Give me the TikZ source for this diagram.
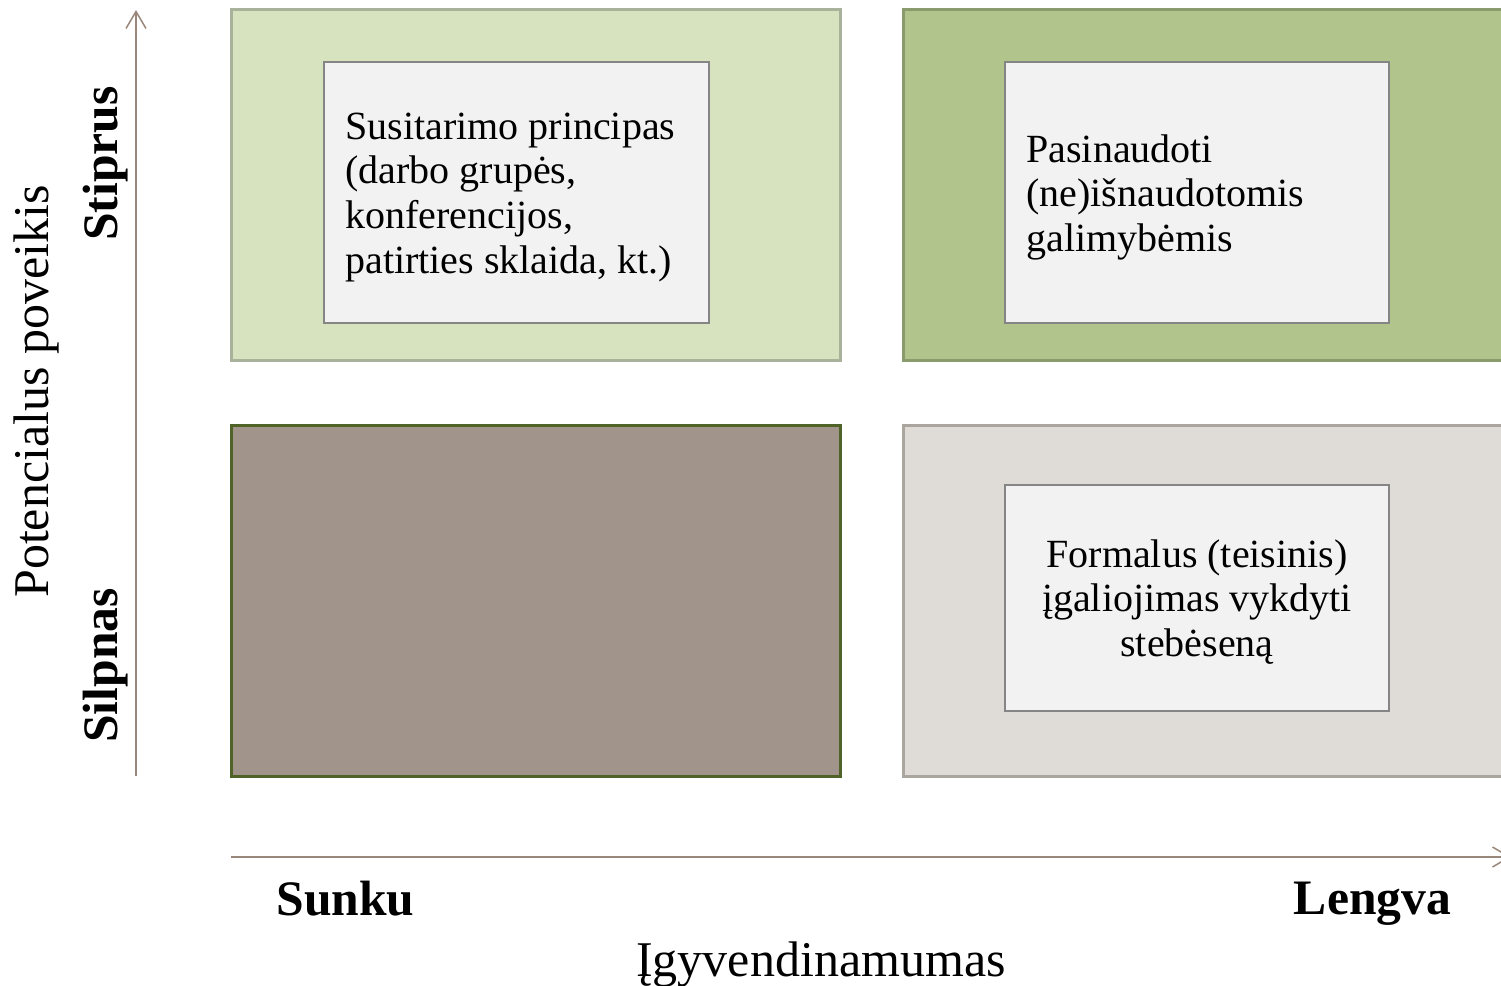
\documentclass[tikz,border=0pt]{standalone}
\usepackage{fontspec}
\setmainfont{Liberation Serif}
\usetikzlibrary{arrows.meta}
\definecolor{tlfill}{HTML}{D7E3BF}
\definecolor{tlline}{HTML}{A8B29A}
\definecolor{trfill}{HTML}{B1C48B}
\definecolor{trline}{HTML}{8A9B6E}
\definecolor{blfill}{HTML}{A1958B}
\definecolor{blline}{HTML}{4F6228}
\definecolor{brfill}{HTML}{DFDBD7}
\definecolor{brline}{HTML}{ABA5A0}
\definecolor{innerfill}{HTML}{F2F2F2}
\definecolor{innerline}{HTML}{858585}
\definecolor{axiscol}{HTML}{9A877B}
\tikzset{
  quad/.style={line width=1.5pt},
  innerbox/.style={fill=innerfill, draw=innerline, line width=1.1pt},
  axisarrow/.style={draw=axiscol, line width=0.75pt, -{Straight Barb[length=8.5pt,width=10pt,line width=0.75pt]}},
  boxtext/.style={inner sep=0pt, font=\fontsize{20}{22.35}\selectfont},
  axistitle/.style={inner sep=0pt, font=\fontsize{25}{30}\selectfont},
  axislabel/.style={inner sep=0pt, font=\fontsize{24.8}{29}\selectfont\bfseries},
}
\begin{document}
\begin{tikzpicture}[x=0.5pt,y=-0.5pt]
\useasboundingbox (0,0) rectangle (1501,986);
% quadrants
\draw[quad, fill=tlfill, draw=tlline] (231,9) rectangle (840,360);
\draw[quad, fill=trfill, draw=trline] (903,9) rectangle (1520,360);
\draw[quad, fill=blfill, draw=blline] (231,425) rectangle (840,776);
\draw[quad, fill=brfill, draw=brline] (903,425) rectangle (1520,776);
% inner boxes
\draw[innerbox] (324,62) rectangle (709,323);
\draw[innerbox] (1005,62) rectangle (1389,323);
\draw[innerbox] (1005,485) rectangle (1389,711);
% texts in boxes
\node[boxtext, anchor=base west] (t1) at (345,139)
  {\begin{tabular}[t]{@{}l@{}}Susitarimo principas\\(darbo grupės,\\konferencijos,\\patirties sklaida, kt.)\end{tabular}};
\node[boxtext, anchor=base west] (t2) at (1026,162)
  {\begin{tabular}[t]{@{}l@{}}Pasinaudoti\\(ne)išnaudotomis\\galimybėmis\end{tabular}};
\node[boxtext, anchor=base] (t3) at (1197,567)
  {\begin{tabular}[t]{@{}c@{}}Formalus (teisinis)\\įgaliojimas vykdyti\\stebėseną\end{tabular}};
% axes
\coordinate (ybot) at (136,776);
\coordinate (ytop) at (136,10);
\coordinate (xl) at (231,857);
\coordinate (xr) at (1511,857);
\draw[axisarrow] (ybot) -- (ytop);
\draw[axisarrow] (xl) -- (xr);
% axis labels
\node[axislabel, rotate=90, anchor=base] (stiprus) at (117,163.5) {Stiprus};
\node[axislabel, rotate=90, anchor=base] (silpnas) at (117,665.5) {Silpnas};
\node[axistitle, rotate=90, anchor=base] (poveikis) at (48,391.5) {Potencialus poveikis};
\node[axislabel, anchor=base] (sunku) at (345.5,915) {Sunku};
\node[axislabel, anchor=base] (lengva) at (1372.5,914) {Lengva};
\node[axistitle, anchor=base] (igyv) at (821,976) {Įgyvendinamumas};
\end{tikzpicture}
\end{document}
